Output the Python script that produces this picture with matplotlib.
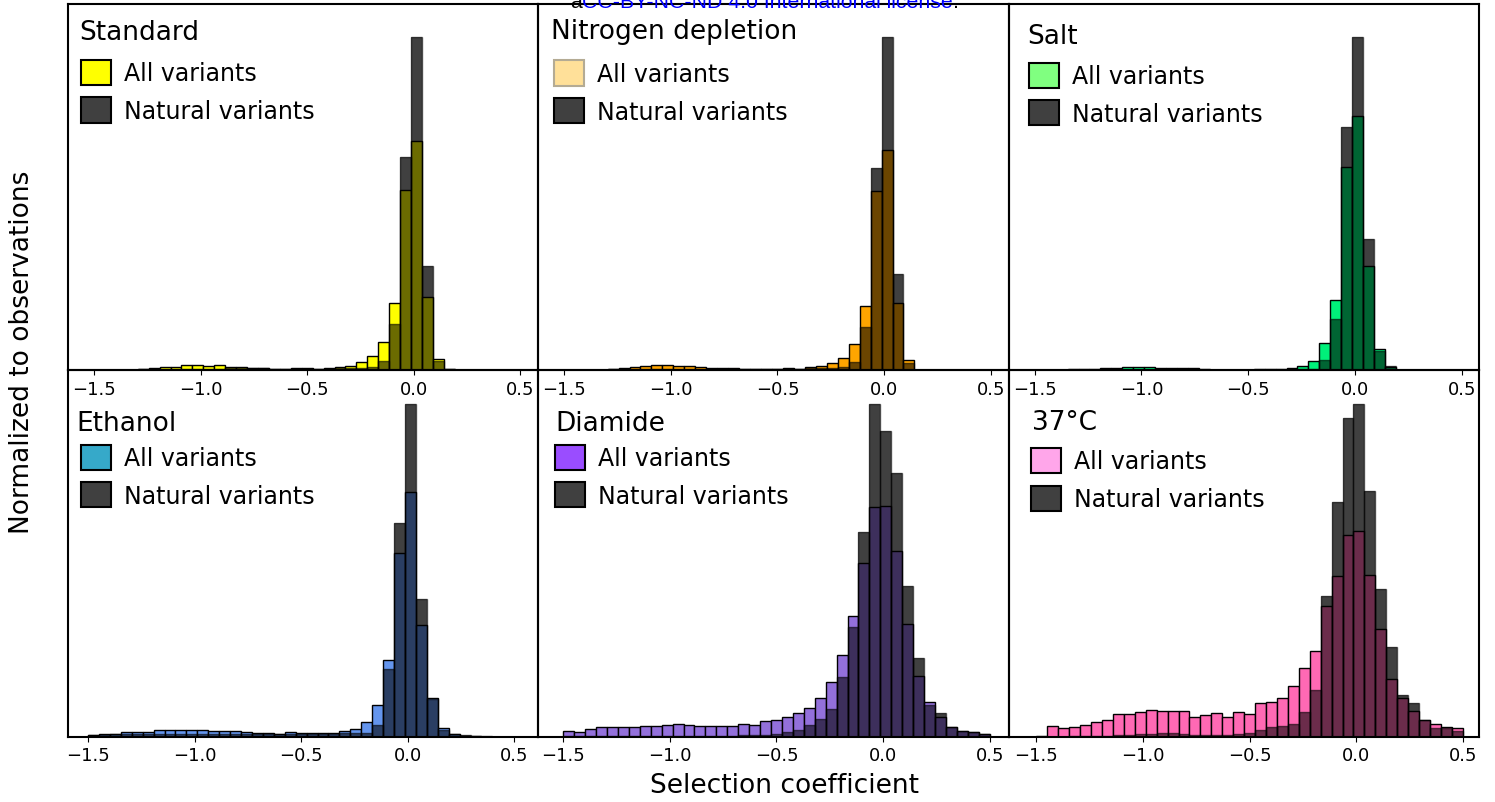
import matplotlib.pyplot as plt
from matplotlib.patches import Patch
import numpy as np

# 39 bins from -1.5 to 0.5
edges = np.linspace(-1.5, 0.5, 40)
centers = (edges[:-1] + edges[1:]) / 2
width = edges[1] - edges[0]

conditions = ['Standard', 'Nitrogen depletion', 'Salt', 'Ethanol', 'Diamide', '37°C']
bar_colors = ['#ffff00', '#ffa500', '#00f07a', '#6495ed', '#9370db', '#ff69b4']
legend_colors = ['#ffff00', '#ffe099', '#80ff80', '#36a9c9', '#9a4dff', '#ffa6ea']
legend_edges = ['k', '#b4ab94', 'k', 'k', 'k', 'k']

# relative bin heights
all_standard = [0, 0.5, 1, 2, 4, 7, 9, 10, 16, 16, 14, 16, 10, 9, 7, 7, 4, 5, 6, 6,
                4, 8, 11, 13, 25, 41, 84, 200, 536, 682, 217, 35, 4, 0, 0, 0, 0, 0, 0]
nat_standard = [0, 0, 0.5, 2, 4, 5, 5, 5, 5, 5, 5, 5, 6, 6, 6, 6, 4, 5, 5, 5,
                4, 5, 6, 7, 8, 10, 29, 137, 636, 992, 312, 27, 4, 0, 0, 0, 0, 0, 0]

all_nitrogen = [0, 0, 1, 2, 4, 7, 9, 12, 16, 16, 14, 14, 10, 8, 7, 6, 5, 5, 4, 5,
                6, 5, 10, 12, 22, 37, 77, 192, 534, 657, 199, 30, 1, 0, 0, 0, 0, 0, 0]
nat_nitrogen = [0, 0, 0.5, 2, 4, 5, 5, 5, 5, 5, 5, 5, 5, 5, 5, 5, 5, 5, 4, 5,
                5, 5, 6, 6, 8, 10, 25, 129, 602, 992, 287, 22, 0.5, 0, 0, 0, 0, 0, 0]

all_salt = [1, 1, 2, 3, 4, 5, 6, 8, 10, 9, 11, 8, 8, 7, 6, 5, 2, 2, 2, 2,
            3, 3, 5, 7, 12, 29, 82, 210, 607, 757, 312, 64, 10, 1, 1, 1, 1, 0.5, 0]
nat_salt = [0.5, 0.5, 0.5, 1, 1, 1, 1, 2, 2, 2, 2, 2, 2, 2, 2, 2, 1, 1, 1, 1,
            1, 1, 2, 2, 3, 4, 32, 152, 725, 992, 392, 57, 12, 2, 2, 2, 2, 1, 0]

all_ethanol = [6, 8, 9, 13, 15, 15, 20, 21, 20, 21, 21, 17, 17, 16, 14, 12, 10, 9, 14, 12,
               11, 11, 11, 16, 24, 44, 95, 230, 552, 737, 337, 117, 27, 7, 2, 0.5, 0, 0, 0]
nat_ethanol = [5, 6, 7, 8, 8, 8, 8, 8, 8, 8, 8, 8, 8, 8, 8, 8, 8, 8, 8, 8,
               8, 8, 9, 10, 12, 12, 35, 202, 642, 1002, 414, 112, 20, 9, 4, 1, 0.5, 0, 0]

all_diamide = [15, 12, 22, 27, 27, 29, 27, 32, 32, 35, 37, 35, 30, 32, 30, 32, 37, 35, 45, 50,
               57, 70, 85, 115, 164, 245, 362, 519, 687, 690, 554, 337, 182, 102, 57, 27, 17, 12, 6]
nat_diamide = [1, 1, 1, 1, 1, 1, 1, 1, 1, 1, 1, 1, 1, 1, 2, 2, 3, 3, 4, 7,
               12, 19, 35, 52, 82, 177, 327, 612, 997, 915, 789, 452, 235, 94, 69, 27, 17, 12, 6]

all_37c = [0.5, 32, 27, 30, 36, 44, 50, 67, 69, 75, 80, 77, 78, 77, 59, 64, 71, 60, 73, 68,
           102, 105, 115, 152, 207, 257, 392, 482, 607, 617, 487, 324, 172, 117, 77, 50, 37, 29, 25]
nat_37c = [0, 0, 0, 1, 2, 3, 3, 4, 5, 8, 8, 10, 12, 9, 6, 6, 6, 6, 7, 10,
           19, 30, 32, 39, 75, 140, 422, 705, 957, 1002, 739, 445, 269, 124, 100, 50, 25, 25, 17]

all_vals = [all_standard, all_nitrogen, all_salt, all_ethanol, all_diamide, all_37c]
nat_vals = [nat_standard, nat_nitrogen, nat_salt, nat_ethanol, nat_diamide, nat_37c]

# per-panel layout tweaks
xlims = [(-1.622, 0.584), (-1.619, 0.582), (-1.622, 0.581),
         (-1.594, 0.613), (-1.617, 0.589), (-1.630, 0.576)]
title_pos = [(0.024, 0.9045), (0.027, 0.907), (0.040, 0.893),
             (0.0185, 0.837), (0.036, 0.837), (0.050, 0.840)]
legend_pos = [(0.028, 0.848), (0.034, 0.846), (0.043, 0.840),
              (0.028, 0.797), (0.036, 0.797), (0.048, 0.788)]

fig, axes = plt.subplots(2, 3, figsize=(14.95, 8.03), dpi=100)
plt.subplots_adjust(left=68/1495, right=1479/1495, top=1-5/803, bottom=1-737.5/803,
                    wspace=0, hspace=0)

for i, ax in enumerate(axes.flat):
    ax.patch.set_visible(False)
    a = np.array(all_vals[i], dtype=float)
    n = np.array(nat_vals[i], dtype=float)
    ax.hist(centers, bins=edges, weights=a, color=bar_colors[i],
            edgecolor='k', linewidth=1, zorder=2)
    ax.hist(centers, bins=edges, weights=n, color='k', alpha=0.58,
            edgecolor='k', linewidth=1, zorder=3)
    # natural-only part reads darker than the overlap in the original
    extra = np.clip(n - a, 0, None)
    ax.bar(centers, extra, width=width, bottom=np.minimum(a, n), color='k',
           alpha=0.4, linewidth=0, zorder=3.5)
    top = max(a.max(), n.max())
    ax.set_ylim(0, top * 1.1)
    ax.set_xlim(*xlims[i])
    ax.set_yticks([])
    ax.set_xticks([-1.5, -1.0, -0.5, 0.0, 0.5])
    ax.tick_params(axis='x', labelsize=13)
    for s in ax.spines.values():
        s.set_linewidth(1.5)
        s.set_zorder(4)
    ax.text(title_pos[i][0], title_pos[i][1], conditions[i], transform=ax.transAxes,
            fontsize=19, ha='left', va='baseline')
    handles = [Patch(facecolor=legend_colors[i], edgecolor=legend_edges[i], linewidth=1.5),
               Patch(facecolor='#404040', edgecolor='k', linewidth=1.5)]
    ax.legend(handles, ['All variants', 'Natural variants'], loc='upper left',
              bbox_to_anchor=legend_pos[i], borderpad=0, borderaxespad=0,
              frameon=False, fontsize=17, handlelength=1.26, handleheight=1.26,
              handletextpad=0.55, labelspacing=0.52)

fig.text(22/1495, 1-352/803, 'Normalized to observations', rotation=90,
         fontsize=19, ha='center', va='center')
fig.text(785/1495, 1-786/803, 'Selection coefficient', fontsize=19,
         ha='center', va='center')

# clipped licence banner at the very top
fig.text(570/1495, 1-7.5/803, 'a', color='k', fontsize=15.3,
         family='Liberation Sans', va='baseline')
fig.text(582/1495, 1-7.5/803, 'CC-BY-NC-ND 4.0 International license', color='#0000ff',
         fontsize=15.3, family='Liberation Sans', va='baseline')
fig.text(953/1495, 1-7.5/803, '.', color='k', fontsize=15.3,
         family='Liberation Sans', va='baseline')

plt.savefig('out.png', dpi=100)
